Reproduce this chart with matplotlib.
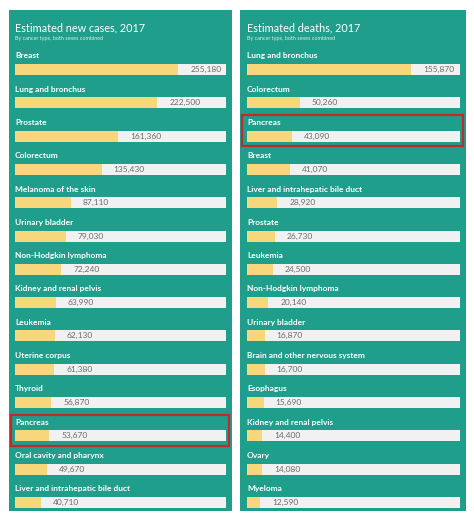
import matplotlib.pyplot as plt
from matplotlib.patches import Rectangle

plt.rcParams['font.family'] = ['Lato', 'DejaVu Sans']

new_labels = ["Breast", "Lung and bronchus", "Prostate", "Colorectum", "Melanoma of the skin",
              "Urinary bladder", "Non-Hodgkin lymphoma", "Kidney and renal pelvis", "Leukemia",
              "Uterine corpus", "Thyroid", "Pancreas", "Oral cavity and pharynx",
              "Liver and intrahepatic bile duct"]
new_values = [255180, 222500, 161360, 135430, 87110, 79030, 72240, 63990, 62130, 61380,
              56870, 53670, 49670, 40710]

death_labels = ["Lung and bronchus", "Colorectum", "Pancreas", "Breast",
                "Liver and intrahepatic bile duct", "Prostate", "Leukemia",
                "Non-Hodgkin lymphoma", "Urinary bladder", "Brain and other nervous system",
                "Esophagus", "Kidney and renal pelvis", "Ovary", "Myeloma"]
death_values = [155870, 50260, 43090, 41070, 28920, 26730, 24500, 20140, 16870, 16700,
                15690, 14400, 14080, 12590]

TEAL = "#1f9e8b"
YELLOW = "#f8d67c"
TRACK = "#f1f1f1"
W, H = 474, 519

fig = plt.figure(figsize=(W / 100, H / 100), dpi=100)
fig.patch.set_facecolor("white")


def px(x0, y0, x1, y1):
    # pixel box (top-left origin) -> figure fraction rect
    return [x0 / W, 1 - y1 / H, (x1 - x0) / W, (y1 - y0) / H]


def panel(bg, track, xmax, title, labels, values, highlight):
    fig.add_artist(Rectangle((bg[0] / W, 1 - bg[3] / H), (bg[2] - bg[0]) / W,
                             (bg[3] - bg[1]) / H, transform=fig.transFigure,
                             facecolor=TEAL, edgecolor="none", zorder=0))
    fig.text(track[0] / W, 1 - 28 / H, title, color="white", fontsize=7.8,
             va="center", ha="left")
    fig.text(track[0] / W, 1 - 38.5 / H, "By cancer type, both sexes combined",
             color="#d8efeb", fontsize=3.9, va="center", ha="left")
    ax = fig.add_axes(px(track[0], 36.2, track[1], 510.8))
    ax.set_facecolor("none")
    ax.set_xlim(0, xmax)
    ax.set_ylim(13.25, -1)
    ax.axis("off")
    n = len(labels)
    ys = list(range(n))
    ax.barh(ys, [xmax] * n, height=0.33, color=TRACK, zorder=1)
    ax.barh(ys, values, height=0.33, color=YELLOW, zorder=2)
    pad = xmax * 12 / (track[1] - track[0])
    for y, lab, v in zip(ys, labels, values):
        ax.text(0, y - 0.41, lab, color="white", fontsize=6, fontweight="bold",
                ha="left", va="center")
        ax.text(v + pad, y, f"{v:,}", color="#6b6b6b", fontsize=6,
                ha="left", va="center", zorder=3)
    i = labels.index(highlight)
    unit = xmax / (track[1] - track[0])
    x0 = (bg[0] + 1.5 - track[0]) * unit
    x1 = (bg[2] - 3 - track[0]) * unit
    ax.add_patch(Rectangle((x0, i - 0.64), x1 - x0, 0.93, fill=False,
                           edgecolor="#c62828", linewidth=1.6, clip_on=False, zorder=4))


panel((9, 10, 232, 510.5), (15, 226), 330000, "Estimated new cases, 2017",
      new_labels, new_values, "Pancreas")
panel((240.5, 10, 466, 511), (247, 460), 202500, "Estimated deaths, 2017",
      death_labels, death_values, "Pancreas")

fig.savefig("out.png", dpi=100)
